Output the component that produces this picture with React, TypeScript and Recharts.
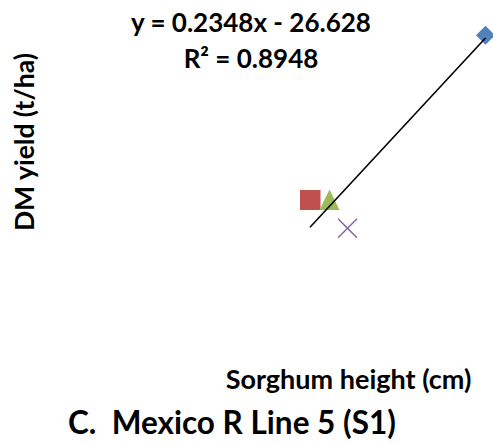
import { ScatterChart, Scatter, XAxis, YAxis } from 'recharts';

// sorghum height (cm) and DM yield (t/ha), one point per series
const seriesNames = ['S1-a', 'S1-b', 'S1-c', 'S1-d'];
const heights = [297, 180, 193, 205];
const yields = [43.5, 19.6, 19.6, 15.5];
const colors = ['#4F81BD', '#C0504D', '#9BBB59', '#8064A2'];

const slope = 0.2348;
const intercept = -26.628;
const rSquared = 0.8948;

const minH = Math.min(...heights);
const maxH = Math.max(...heights);
const trend = [
  { x: minH, y: slope * minH + intercept },
  { x: maxH, y: slope * maxH + intercept },
];

const FONT = 'Lato, "Open Sans", sans-serif';

const Diamond = (p: any) => (
  <polygon
    points={`${p.cx},${p.cy - 9.5} ${p.cx + 9.5},${p.cy} ${p.cx},${p.cy + 9.5} ${p.cx - 9.5},${p.cy}`}
    fill={colors[0]}
  />
);
const Square = (p: any) => <rect x={p.cx - 10} y={p.cy - 10} width={20.5} height={20} fill={colors[1]} />;
const Triangle = (p: any) => (
  <polygon
    points={`${p.cx},${p.cy - 10.5} ${p.cx + 10},${p.cy + 10} ${p.cx - 10},${p.cy + 10}`}
    fill={colors[2]}
  />
);
const Cross = (p: any) => (
  <g stroke={colors[3]} strokeWidth={1.5}>
    <line x1={p.cx - 9.5} y1={p.cy - 9.5} x2={p.cx + 9.5} y2={p.cy + 9.5} />
    <line x1={p.cx - 9.5} y1={p.cy + 9.5} x2={p.cx + 9.5} y2={p.cy - 9.5} />
  </g>
);
const shapes = [Diamond, Square, Triangle, Cross];
const sign = intercept < 0 ? '-' : '+';

export default function App() {
  return (
    <div style={{ position: 'absolute', left: 0, top: 0, width: 493, height: 444, background: '#fff' }}>
      <ScatterChart width={493} height={444} margin={{ top: 25, right: 3, bottom: 109, left: 40 }}>
        <XAxis type="number" dataKey="x" domain={[0, 300]} hide />
        <YAxis type="number" dataKey="y" domain={[0, 45]} hide />
        {seriesNames.map((name, i) => (
          <Scatter
            key={name}
            name={name}
            data={[{ x: heights[i], y: yields[i] }]}
            shape={shapes[i]}
            isAnimationActive={false}
          />
        ))}
        <Scatter
          name="trend"
          data={trend}
          line={{ stroke: '#000', strokeWidth: 1.6 }}
          shape={() => <g />}
          isAnimationActive={false}
        />
      </ScatterChart>
      <svg
        width={493}
        height={444}
        style={{ position: 'absolute', left: 0, top: 0, pointerEvents: 'none' }}
        fontFamily={FONT}
        fontWeight="bold"
      >
        <text x={251} y={32} fontSize={26} textAnchor="middle" fill="#000">
          {`y = ${slope}x ${sign} ${Math.abs(intercept)}`}
        </text>
        <text x={251} y={68} fontSize={26} textAnchor="middle" fill="#000">
          {`R² = ${rSquared}`}
        </text>
        <text x={348.5} y={389} fontSize={27} textAnchor="middle" fill="#000">
          Sorghum height (cm)
        </text>
        <text x={34} y={142} fontSize={26.5} textAnchor="middle" fill="#000" transform="rotate(-90 34 142)">
          DM yield (t/ha)
        </text>
        <text x={68} y={434} fontSize={31.5} fill="#000" xmlSpace="preserve">
          {'C.  Mexico R Line 5 (S1)'}
        </text>
      </svg>
    </div>
  );
}
